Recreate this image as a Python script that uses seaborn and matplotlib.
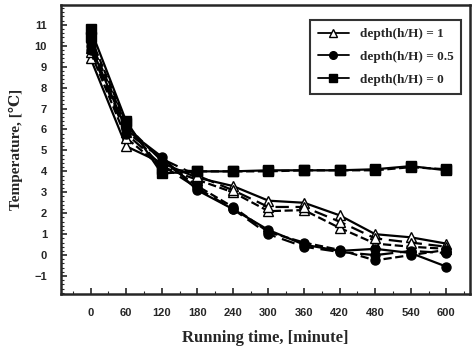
import matplotlib
matplotlib.use("Agg")
import matplotlib.pyplot as plt
from matplotlib.ticker import MultipleLocator
from matplotlib.lines import Line2D
import seaborn as sns
import pandas as pd

# running time, minutes
time_min = [0, 60, 120, 180, 240, 300, 360, 420, 480, 540, 600]

# depth h/H = 1 (open triangles), three runs
d1_run1 = [9.4, 5.2, 4.4, 3.7, 3.3, 2.6, 2.5, 1.9, 1.0, 0.85, 0.55]
d1_run2 = [9.7, 5.6, 4.2, 3.6, 3.0, 2.1, 2.15, 1.3, 0.55, 0.4, 0.3]
d1_run3 = [9.9, 5.9, 4.6, 3.8, 3.1, 2.3, 2.3, 1.6, 0.8, 0.6, 0.4]

# depth h/H = 0.5 (filled circles)
d05_run1 = [10.0, 6.0, 4.7, 3.1, 2.2, 1.2, 0.5, 0.2, 0.3, 0.1, -0.55]
d05_run2 = [10.2, 6.2, 4.5, 3.3, 2.3, 1.1, 0.6, 0.25, -0.25, 0.0, 0.25]
d05_run3 = [9.8, 5.8, 4.3, 3.2, 2.2, 1.0, 0.4, 0.15, 0.0, 0.2, 0.1]

# depth h/H = 0 (filled squares)
d0_run1 = [10.8, 6.4, 3.9, 4.0, 4.0, 4.05, 4.05, 4.05, 4.1, 4.25, 4.05]
d0_run2 = [10.4, 6.3, 4.1, 4.0, 4.0, 4.0, 4.05, 4.05, 4.05, 4.2, 4.1]

legend_labels = ["depth(h/H) = 1", "depth(h/H) = 0.5", "depth(h/H) = 0"]

sns.set_theme(style="ticks")
plt.rcParams["font.family"] = ["Liberation Sans", "DejaVu Sans"]

fig = plt.figure(figsize=(4.72, 3.49), dpi=100)
ax = fig.add_axes([0.129, 0.158, 0.867, 0.828])

series = [
    (d1_run1, "^", "white", "-"), (d1_run2, "^", "white", "--"), (d1_run3, "^", "white", (0, (6, 3))),
    (d05_run1, "o", "black", "-"), (d05_run2, "o", "black", "--"), (d05_run3, "o", "black", (0, (6, 3))),
    (d0_run1, "s", "black", "-"), (d0_run2, "s", "black", "--"),
]
for vals, mk, fc, ls in series:
    df = pd.DataFrame({"t": time_min, "T": vals})
    sns.lineplot(data=df, x="t", y="T", ax=ax, color="black", lw=1.6,
                 linestyle=ls, marker=mk, markersize=6.5, markerfacecolor=fc,
                 markeredgecolor="black", markeredgewidth=1.0)

ax.set_xlim(-50, 640)
ax.set_ylim(-1.85, 11.95)
ax.set_xticks(time_min)
ax.set_yticks(range(-1, 12))
ax.xaxis.set_minor_locator(MultipleLocator(30))
ax.yaxis.set_minor_locator(MultipleLocator(0.2))
ax.tick_params(which="major", direction="in", length=4, width=1.2,
               labelsize=8, pad=10)
ax.tick_params(which="minor", direction="in", length=2, width=0.8)
for lab in ax.get_xticklabels() + ax.get_yticklabels():
    lab.set_fontweight("bold")
for sp in ax.spines.values():
    sp.set_linewidth(1.8)
    sp.set_visible(True)

serif = ["Liberation Serif", "DejaVu Serif"]
ax.set_xlabel("Running time, [minute]", family=serif, fontweight="bold",
              fontsize=12, labelpad=9)
ax.set_ylabel("Temperature, [\u2103]", family=serif, fontweight="bold",
              fontsize=11, labelpad=8)

handles = [
    Line2D([], [], color="black", lw=1.3, marker="^", markersize=5.5,
           markerfacecolor="white", markeredgecolor="black"),
    Line2D([], [], color="black", lw=1.3, marker="o", markersize=5.5),
    Line2D([], [], color="black", lw=1.3, marker="s", markersize=5.5),
]
leg = ax.legend(handles, legend_labels, loc="upper right", frameon=True,
                fancybox=False, prop={"family": serif, "weight": "bold", "size": 9.5},
                handlelength=2.4, borderpad=0.6, labelspacing=0.8,
                bbox_to_anchor=(0.995, 0.97))
leg.get_frame().set_edgecolor("black")
leg.get_frame().set_linewidth(1.5)

fig.savefig("out.png", dpi=100)
